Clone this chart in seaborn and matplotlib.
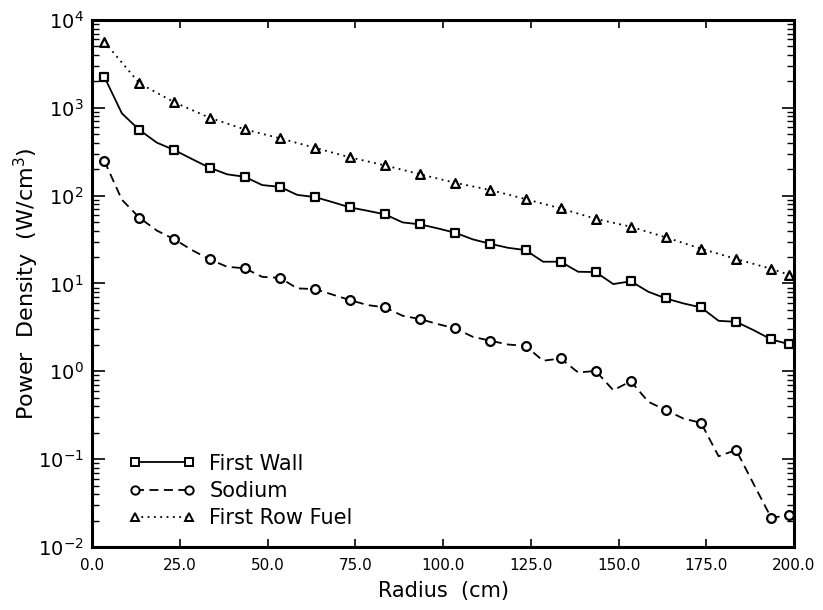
import numpy as np
import pandas as pd
import matplotlib
matplotlib.use("Agg")
import matplotlib.pyplot as plt
from matplotlib.lines import Line2D
from matplotlib.ticker import LogLocator, FixedLocator, FixedFormatter, NullFormatter
import seaborn as sns

# ---- data ----
radius_fine = [3.5 + 5 * j for j in range(40)]
first_wall = [2260, 866, 559, 401, 330, 261, 208, 175, 164, 132, 126, 102, 96.4, 84.5,
              73.5, 67.3, 61.2, 49.6, 47.1, 42.4, 37.8, 31.8, 28.3, 25.5, 24.0, 17.7,
              17.7, 13.6, 13.5, 9.85, 10.6, 8.05, 6.76, 5.93, 5.34, 3.76, 3.66, 2.94,
              2.31, 2.04]
sodium = [250, 90, 56.1, 40, 31.8, 24, 18.8, 15.5, 14.9, 11.9, 11.6, 8.8, 8.63, 7.48,
          6.47, 5.68, 5.34, 4.29, 3.93, 3.45, 3.08, 2.47, 2.23, 2.02, 1.95, 1.32, 1.40,
          0.97, 1.01, 0.61, 0.77, 0.45, 0.361, 0.29, 0.259, 0.108, 0.127, 0.052,
          0.0215, 0.0230]
radius_fuel = [3.5 + 10 * k for k in range(20)] + [198.5]
first_row_fuel = [5660, 1900, 1155, 771, 569, 450, 351, 273, 221, 175, 140, 116, 91.5,
                  71.6, 54.5, 44.3, 33.5, 24.9, 19.0, 14.7, 12.6]
marked_idx = list(range(0, 40, 2)) + [39]

series_names = ["First Wall", "Sodium", "First Row Fuel"]
x_ticks = [0, 25, 50, 75, 100, 125, 150, 175, 200]
x_ticklabels = ["0.0", "25.0", "50.0", "75.0", "100.0", "125.0", "150.0", "175.0", "200.0"]
y_ticks = [1e-2, 1e-1, 1e0, 1e1, 1e2, 1e3, 1e4]
y_ticklabels = [r"$10^{-2}$", r"$10^{-1}$", r"$10^{0}$", r"$10^{1}$", r"$10^{2}$",
                r"$10^{3}$", r"$10^{4}$"]

# ---- figure ----
sns.set_theme(style="white")
plt.rcParams['font.family'] = ['DejaVu Sans']
plt.rcParams['mathtext.fontset'] = 'dejavusans'
for key in ["text.color", "axes.labelcolor", "xtick.color", "ytick.color"]:
    plt.rcParams[key] = "black"

fig = plt.figure(figsize=(8.23, 6.10), dpi=100)
ax = fig.add_axes([0.1118, 0.1033, 0.853, 0.8639])

dash_styles = {
    "First Wall": "-",
    "Sodium": (0, (5, 3)),
    "First Row Fuel": (0, (1, 2.5)),
}
markers = {"First Wall": "s", "Sodium": "o", "First Row Fuel": "^"}

df_wall = pd.DataFrame({"r": radius_fine, "v": first_wall})
df_sod = pd.DataFrame({"r": radius_fine, "v": sodium})
df_fuel = pd.DataFrame({"r": radius_fuel, "v": first_row_fuel})

lw = 1.3
sns.lineplot(data=df_wall, x="r", y="v", ax=ax, color="black", lw=lw,
             linestyle=dash_styles["First Wall"])
sns.lineplot(data=df_sod, x="r", y="v", ax=ax, color="black", lw=lw,
             linestyle=dash_styles["Sodium"])
sns.lineplot(data=df_fuel, x="r", y="v", ax=ax, color="black", lw=lw,
             linestyle=dash_styles["First Row Fuel"])

mk = dict(color="white", edgecolor="black", linewidth=1.6, s=40, zorder=5)
sns.scatterplot(data=df_wall.iloc[marked_idx], x="r", y="v", ax=ax,
                marker=markers["First Wall"], **mk)
sns.scatterplot(data=df_sod.iloc[marked_idx], x="r", y="v", ax=ax,
                marker=markers["Sodium"], **mk)
sns.scatterplot(data=df_fuel, x="r", y="v", ax=ax,
                marker=markers["First Row Fuel"], **mk)

ax.set_yscale("log")
ax.set_xlim(0, 200)
ax.set_ylim(1e-2, 1e4)

ax.xaxis.set_major_locator(FixedLocator(x_ticks))
ax.xaxis.set_major_formatter(FixedFormatter(x_ticklabels))
ax.yaxis.set_major_locator(FixedLocator(y_ticks))
ax.yaxis.set_major_formatter(FixedFormatter(y_ticklabels))
ax.yaxis.set_minor_locator(LogLocator(base=10, subs=np.arange(2, 10)))
ax.yaxis.set_minor_formatter(NullFormatter())

ax.tick_params(axis="x", which="major", direction="in", length=6, width=1.2,
               top=True, bottom=True, labelsize=11, pad=8)
ax.tick_params(axis="y", which="major", direction="in", length=9, width=1.2,
               left=True, right=True, labelsize=14, pad=6)
ax.tick_params(axis="y", which="minor", direction="in", length=5, width=1.0,
               left=True, right=True)
for s in ax.spines.values():
    s.set_linewidth(2.2)
    s.set_color("black")

ax.set_xlabel("Radius  (cm)", fontsize=15, labelpad=6)
ax.set_ylabel(r"Power  Density  (W/cm$^3$)", fontsize=16)
ax.yaxis.set_label_coords(-0.073, 0.5)

handles = []
for name in series_names:
    h = Line2D([0], [0], color="black", lw=lw, linestyle=dash_styles[name],
               marker=markers[name], markerfacecolor="white", markeredgecolor="black",
               markersize=6, markeredgewidth=1.4)
    handles.append(h)
leg = ax.legend(handles, series_names, loc="lower left", bbox_to_anchor=(0.026, 0.0),
                frameon=False, numpoints=2, handlelength=3.2, fontsize=15,
                labelspacing=0.35, handletextpad=0.65)

fig.savefig("out.png", dpi=100, facecolor="white")
